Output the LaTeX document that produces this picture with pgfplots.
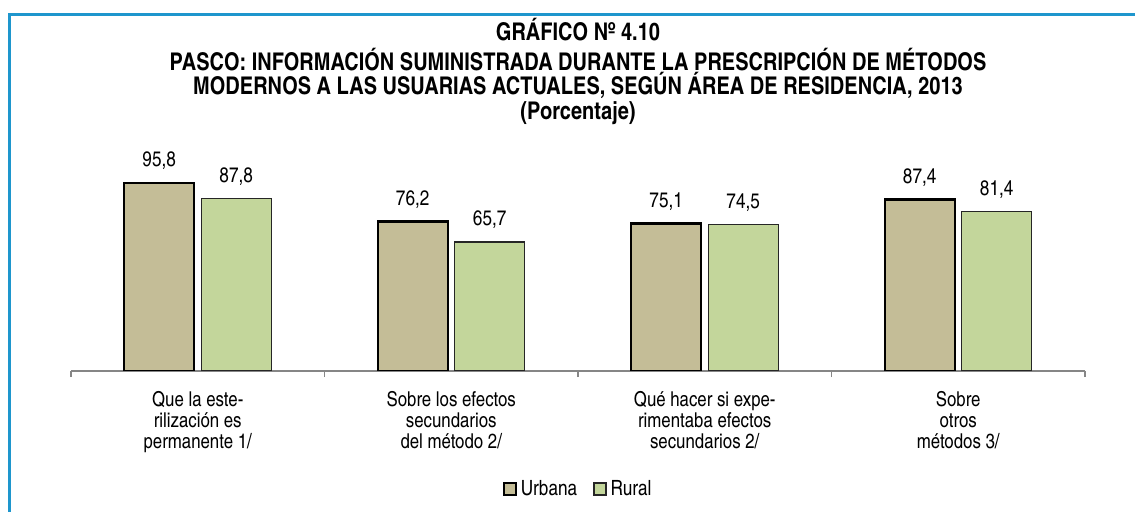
\documentclass[border=0pt]{standalone}
\usepackage{pgfplots}
\pgfplotsset{compat=1.18}
\usepackage{pgfplotstable}
\usepackage{fontspec}
\setmainfont{texgyreheroscn}[Extension=.otf, UprightFont=*-regular, BoldFont=*-bold,
  ItalicFont=*-italic, BoldItalicFont=*-bolditalic]

\definecolor{urbana}{RGB}{196,189,151}
\definecolor{rural}{RGB}{195,214,155}
\definecolor{marco}{RGB}{30,150,205}
\definecolor{eje}{RGB}{134,134,134}

% porcentajes por area de residencia
\pgfplotstableread{
x urbana rural
0 95.8 87.8
1 76.2 65.7
2 75.1 74.5
3 87.4 81.4
}\datos

\begin{document}
\begin{tikzpicture}
\path[use as bounding box] (0bp,0bp) rectangle (1135bp,512bp);
\draw[marco, line width=3bp] (9bp,0bp) -- (9bp,497bp) -- (1135bp,497bp);

\begin{scope}[every node/.style={anchor=base, inner sep=0pt,
      font=\bfseries\fontsize{24.4bp}{25bp}\selectfont}]
\node at (578bp,471.5bp) {GRÁFICO Nº 4.10};
\node at (578bp,441.5bp) {PASCO: INFORMACIÓN SUMINISTRADA DURANTE LA PRESCRIPCIÓN DE MÉTODOS};
\node at (578bp,417.5bp) {MODERNOS A LAS USUARIAS ACTUALES, SEGÚN ÁREA DE RESIDENCIA, 2013};
\node at (578bp,392bp) {(Porcentaje)};
\end{scope}

\begin{axis}[
    at={(71bp,141bp)}, anchor=south west,
    width=1014bp, height=216bp, scale only axis,
    xmin=-0.5, xmax=3.5, ymin=0, ymax=110,
    axis x line*=bottom, axis y line=none,
    x axis line style={eje, line width=1.5bp},
    xtick={0,1,2,3}, major tick length=0pt,
    minor xtick={-0.5,0.5,1.5,2.5,3.5},
    minor tick length=6bp, tick align=outside,
    minor tick style={eje, line width=1.5bp},
    xticklabels={{Que la este-\\rilización es\\permanente 1/},
                 {Sobre los efectos\\secundarios\\del método 2/},
                 {Qué hacer si expe-\\rimentaba efectos\\secundarios 2/},
                 {Sobre\\otros\\métodos 3/}},
    xticklabel style={align=center, inner sep=0pt, anchor=north, yshift=-20bp,
                      font=\fontsize{20.5bp}{21bp}\selectfont},
    ybar, bar width=70bp,
    /pgf/number format/.cd, fixed, fixed zerofill, precision=1, use comma,
      assume math mode=true, /pgfplots/.cd,
    nodes near coords,
    every node near coord/.append style={anchor=base, yshift=16bp, black,
                      font=\fontsize{21bp}{22bp}\selectfont},
    legend columns=2,
    legend style={at={(0.5,-0.546)}, anchor=center, draw=none,
                  font=\fontsize{21bp}{22bp}\selectfont,
                  /tikz/every odd column/.append style={column sep=2bp},
                  /tikz/every even column/.append style={column sep=14bp}},
    legend image code/.code={\draw[#1] (0bp,-6bp) rectangle (12bp,6bp);},
]
\addplot[fill=urbana, draw=black, line width=2.4bp, bar shift=-38.5bp]
  table[x=x, y=urbana]{\datos};
\addplot[fill=rural, draw=black!85, line width=1.3bp, bar shift=38.5bp]
  table[x=x, y=rural]{\datos};
\legend{Urbana, Rural}
\end{axis}
\end{tikzpicture}
\end{document}
